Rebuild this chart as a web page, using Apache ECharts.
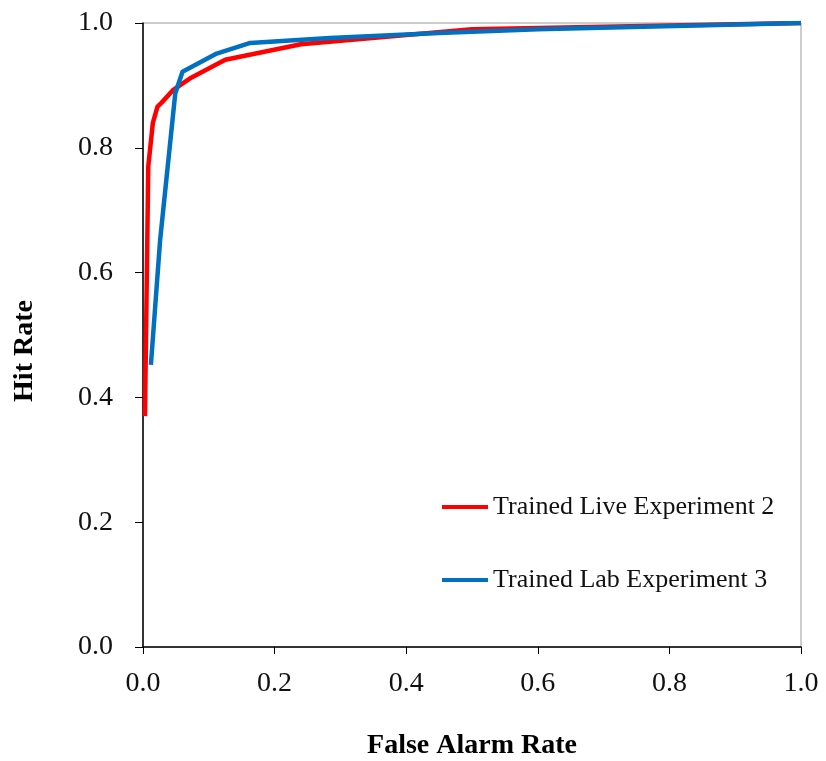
<!DOCTYPE html>
<html>
<head>
<meta charset="utf-8">
<script src="https://cdn.jsdelivr.net/npm/echarts@6/dist/echarts.min.js"></script>
<style>
  html, body { margin: 0; padding: 0; background: #fff; }
  #roc { width: 826px; height: 761px; }
</style>
</head>
<body>
<div id="roc"></div>
<script>
  // ROC points: [false alarm rate, hit rate]
  var liveExp2 = [
    [0.003, 0.37], [0.008, 0.77], [0.015, 0.84], [0.022, 0.866], [0.028, 0.872],
    [0.046, 0.893], [0.071, 0.911], [0.125, 0.941], [0.24, 0.966], [0.5, 0.99], [1.0, 1.0]
  ]
  var labExp3 = [
    [0.012, 0.452], [0.026, 0.652], [0.049, 0.887], [0.060, 0.922], [0.112, 0.951],
    [0.163, 0.968], [0.284, 0.976], [0.45, 0.984], [0.6, 0.99], [1.0, 1.0]
  ]
  var legendNames = ['Trained Live Experiment 2', 'Trained Lab Experiment 3']

  var serif = 'Liberation Serif'
  var chart = echarts.init(document.getElementById('roc'))

  chart.setOption({
    backgroundColor: '#fff',
    animation: false,
    grid: {
      left: 143, right: 25, top: 23, bottom: 114,
      outerBoundsMode: 'none',
      show: true, borderColor: '#9a9a9a', borderWidth: 1
    },
    legend: {
      data: legendNames,
      orient: 'vertical',
      left: 437, top: 489,
      itemWidth: 46, itemHeight: 4, itemGap: 47,
      icon: 'rect',
      textStyle: { fontFamily: serif, fontSize: 26, color: '#111' }
    },
    xAxis: {
      type: 'value', min: 0, max: 1, interval: 0.2,
      name: 'False Alarm Rate', nameLocation: 'middle', nameGap: 85,
      nameTextStyle: { fontFamily: serif, fontSize: 28, fontWeight: 'bold', color: '#000' },
      axisLine: { lineStyle: { color: '#000', width: 1.5 } },
      axisTick: { show: true, inside: false, length: 7, lineStyle: { color: '#000' } },
      axisLabel: { fontFamily: serif, fontSize: 28, color: '#111', margin: 23,
        formatter: function (v) { return v.toFixed(1) } },
      splitLine: { show: false }
    },
    yAxis: {
      type: 'value', min: 0, max: 1, interval: 0.2,
      name: 'Hit Rate', nameLocation: 'middle', nameGap: 104,
      nameTextStyle: { fontFamily: serif, fontSize: 28, fontWeight: 'bold', color: '#000',
        padding: [0, 32, 0, 0] },
      axisLine: { lineStyle: { color: '#000', width: 1.5 } },
      axisTick: { show: true, inside: false, length: 8, lineStyle: { color: '#000' } },
      axisLabel: { fontFamily: serif, fontSize: 28, color: '#111', margin: 30,
        formatter: function (v) { return v.toFixed(1) } },
      splitLine: { show: false }
    },
    series: [
      {
        name: legendNames[0], type: 'line', data: liveExp2,
        showSymbol: false, symbol: 'none',
        itemStyle: { color: '#ff0000' },
        lineStyle: { color: '#ff0000', width: 4.5 }
      },
      {
        name: legendNames[1], type: 'line', data: labExp3,
        showSymbol: false, symbol: 'none',
        itemStyle: { color: '#0070c0' },
        lineStyle: { color: '#0070c0', width: 4.5 }
      }
    ]
  })
</script>
</body>
</html>
